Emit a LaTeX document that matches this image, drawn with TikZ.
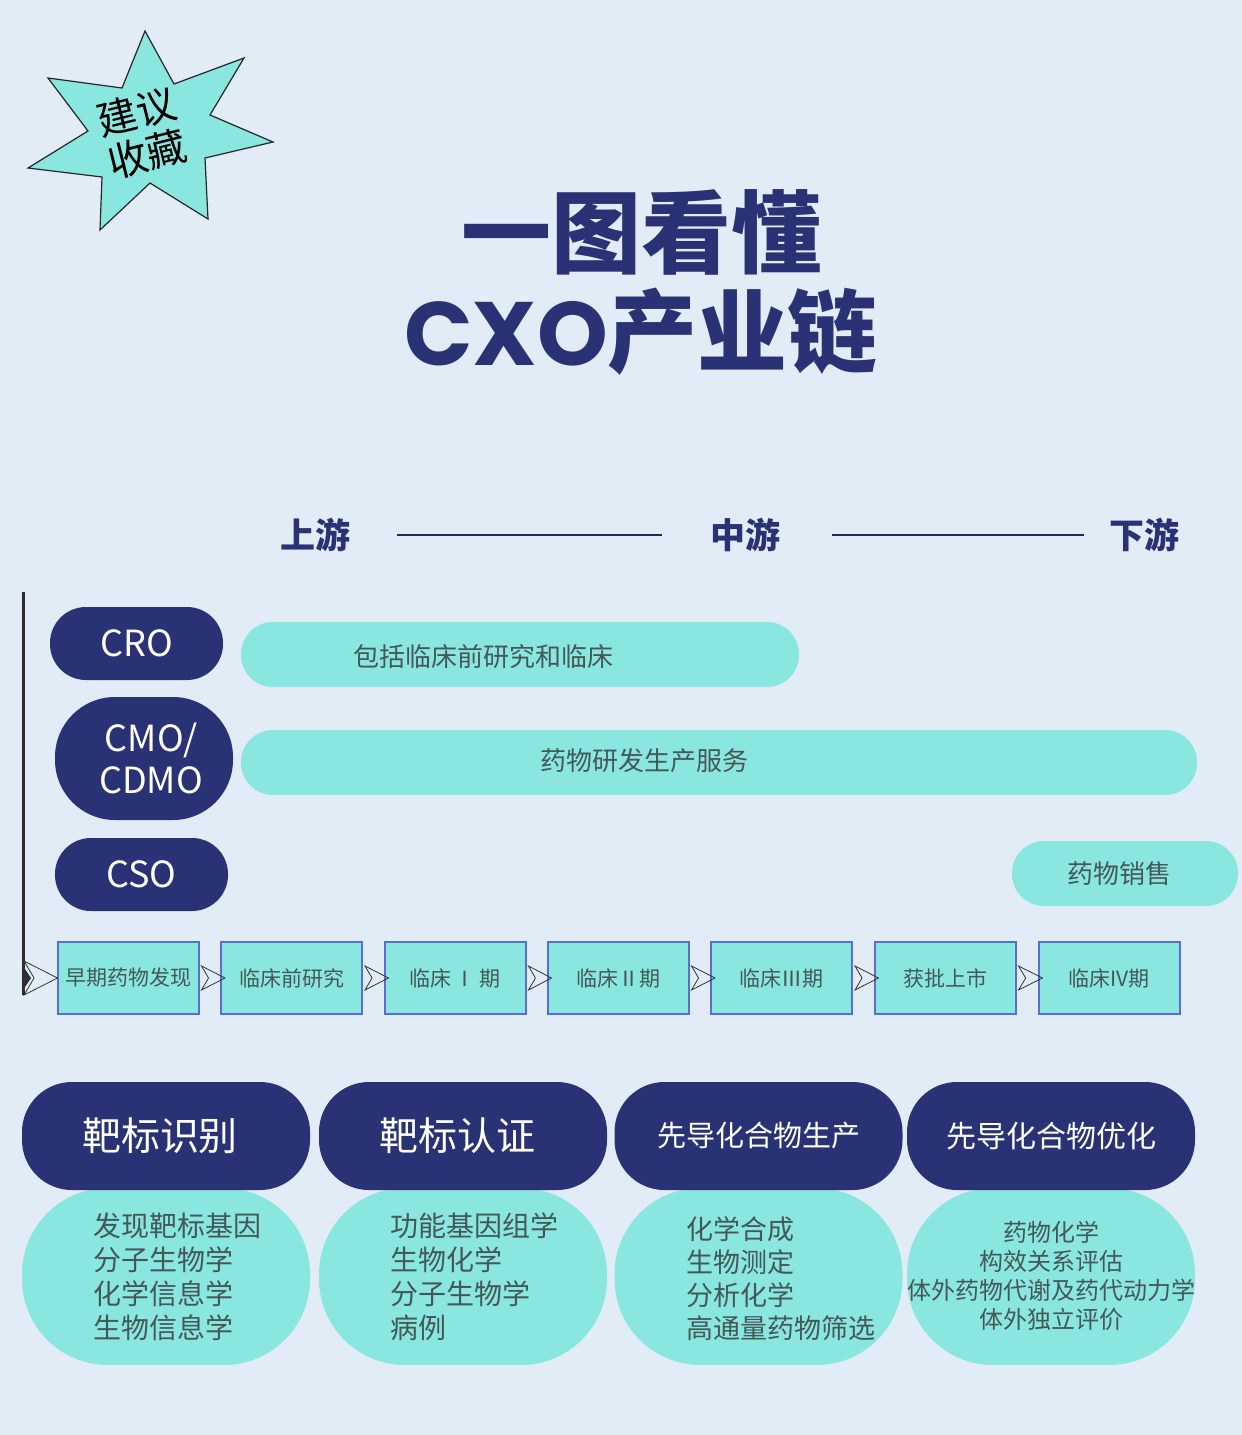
\documentclass[tikz,border=0pt]{standalone}
\usepackage{fontspec}
\setmainfont{Noto Sans CJK SC}
\newfontfamily\poppins{Poppins}
\usepackage{tikz}
\usetikzlibrary{calc}
\definecolor{bgblue}{RGB}{225,236,246}
\definecolor{navy}{RGB}{42,50,118}
\definecolor{mint}{RGB}{138,231,224}
\definecolor{stageedge}{RGB}{90,110,205}
\definecolor{inkgray}{RGB}{68,88,88}
\definecolor{axisgray}{RGB}{45,45,50}
\newcommand{\fs}[2]{\fontsize{#1}{#2}\selectfont}
\tikzset{
  badge/.style     = {fill=mint,draw=black!85,line width=0.6pt,line join=miter},
  badgetxt/.style  = {align=center,inner sep=0pt,rotate=14,font=\fs{20}{21.5}},
  titletxt/.style  = {text=navy,inner sep=0pt,font=\fs{45}{50}\bfseries},
  streamtxt/.style = {text=navy,inner sep=0pt,font=\fs{17.5}{20}\bfseries},
  streamline/.style= {draw=navy!80!black,line width=0.6pt},
  axisbar/.style   = {draw=axisgray,line width=1.5pt},
  navypill/.style  = {fill=navy,text=white,inner sep=0pt,align=center,font=\fs{18}{21}},
  mintpill/.style  = {fill=mint,inner sep=0pt,minimum height=32.5pt,rounded corners=16pt},
  pilltxt/.style   = {text=inkgray,inner sep=0pt,font=\fs{13}{15}},
  stagebox/.style  = {draw=stageedge,line width=1pt,fill=mint,minimum width=70.5pt,
                      minimum height=36pt,inner sep=0pt,text=inkgray,font=\fs{10.5}{12}},
  chev/.style      = {draw=black!80,line width=0.4pt,line join=miter},
  headpill/.style  = {fill=navy,text=white,minimum width=144pt,minimum height=54pt,
                      rounded corners=25pt,inner sep=0pt},
  mintblob/.style  = {fill=mint,minimum width=144pt,minimum height=88.5pt,
                      rounded corners=43pt,inner sep=0pt},
  blobtxt/.style   = {text=inkgray,inner sep=0pt}
}
% chevron between two stage boxes: #1 from, #2 to
\newcommand{\chevron}[2]{%
  \coordinate (#1back) at ($(#1.east)+(2,0)$);
  \coordinate (#1tip) at ($(#2.west)+(5,0)$);
  \draw[chev] ($(#1back)+(0,-12)$) -- (#1tip) -- ($(#1back)+(0,12)$)
    -- ($(#1back)!0.3!(#1tip)$) -- cycle;
}

\begin{document}
\begin{tikzpicture}[x=0.5pt,y=-0.5pt]
  \useasboundingbox (0,0) rectangle (1242,1435);
  \fill[bgblue] (0,0) rectangle (1242,1435);

  % badge
  \draw[badge] (145,31) -- (174,84) -- (244,58) -- (210,115) -- (273,142) -- (205,158)
    -- (208,219) -- (150,183) -- (100,230) -- (102,177) -- (28,168) -- (88,131)
    -- (48,78) -- (122,88) -- cycle;
  \node[badgetxt] (keep) at (142,133) {建议\\收藏};

  % title
  \node[titletxt] (title1) at (641,232) {一图看懂};
  \node[titletxt] (title2) at (641,332) {{\poppins CXO}产业链};

  % up / mid / down stream
  \node[streamtxt] (up)   at (315,535)  {上游};
  \node[streamtxt] (mid)  at (745,535)  {中游};
  \node[streamtxt] (down) at (1144,535) {下游};
  \draw[streamline,shorten <=23.5pt,shorten >=24pt] (up.east) -- (mid.west);
  \draw[streamline,shorten <=26pt,shorten >=12.5pt] (mid.east) -- (down.west);

  % service types
  \node[navypill,minimum width=86.5pt,minimum height=36.5pt,rounded corners=18pt]
    (cro) at (136.5,643.5) {CRO};
  \node[navypill,minimum width=89pt,minimum height=61.5pt,rounded corners=30pt]
    (cmo) at (144,758.5) {\hspace*{7pt}CMO/\\\hspace*{7pt}CDMO};
  \node[navypill,minimum width=86.5pt,minimum height=36.5pt,rounded corners=18pt]
    (cso) at (141.5,874.5) {CSO};

  \node[mintpill,minimum width=279pt] (crobar) at (520,654.5) {};
  \node[mintpill,minimum width=478pt] (cmobar) at (719,762.5) {};
  \node[mintpill,minimum width=113pt] (csobar) at (1125,873.5) {};
  \node[pilltxt] (crotxt) at ([xshift=-18.5pt,yshift=-1pt]crobar.center) {包括临床前研究和临床};
  \node[pilltxt] (cmotxt) at ([xshift=-37.5pt,yshift=1pt]cmobar.center) {药物研发生产服务};
  \node[pilltxt] (csotxt) at ([xshift=-3pt]csobar.center) {药物销售};

  % stages
  \coordinate (axtop) at (23,592);
  \coordinate (axbot) at (23,995);
  \draw[axisbar] (axtop) -- (axbot);
  \node[stagebox] (s1) at (128,978)    {早期药物发现};
  \node[stagebox] (s2) at (291.5,978)  {临床前研究};
  \node[stagebox] (s3) at (455,978)    {临床\,Ⅰ\,期};
  \node[stagebox] (s4) at (618,978)    {临床Ⅱ期};
  \node[stagebox] (s5) at (781.5,978)  {临床Ⅲ期};
  \node[stagebox] (s6) at (945,978)    {获批上市};
  \node[stagebox] (s7) at (1109,978)   {临床IV期};
  \coordinate (s0back) at (24,978);
  \coordinate (s0tip) at ($(s1.west)+(1,0)$);
  \fill[axisgray] (23,966) -- (31,978) -- (23,990) -- cycle;
  \draw[chev] ($(s0back)+(0,-17)$) -- (s0tip) -- ($(s0back)+(0,17)$)
    -- ($(s0back)!0.3!(s0tip)$) -- cycle;
  \chevron{s1}{s2}
  \chevron{s2}{s3}
  \chevron{s3}{s4}
  \chevron{s4}{s5}
  \chevron{s5}{s6}
  \chevron{s6}{s7}

  % discovery steps
  \node[mintblob] (k1) at (166,1276.5)    {};
  \node[mintblob] (k2) at (463,1276.5)    {};
  \node[mintblob] (k3) at (758.5,1276.5)  {};
  \node[mintblob] (k4) at (1051,1276.5)   {};
  \node[headpill,font=\fs{19.5}{22}] (h1) at (166,1136)   {\hspace*{-6pt}靶标识别};
  \node[headpill,font=\fs{19.5}{22}] (h2) at (463,1136)   {\hspace*{-6pt}靶标认证};
  \node[headpill,font=\fs{14.5}{17}] (h3) at (758.5,1136) {先导化合物生产};
  \node[headpill,font=\fs{15}{17}]   (h4) at (1051,1136)  {先导化合物优化};
  \node[blobtxt,align=left,font=\fs{14}{17}] (k1txt) at ([xshift=5.5pt]k1.center)
    {发现靶标基因\\分子生物学\\化学信息学\\生物信息学};
  \node[blobtxt,align=left,font=\fs{14}{17}] (k2txt) at ([xshift=5.5pt]k2.center)
    {功能基因组学\\生物化学\\分子生物学\\病例};
  \node[blobtxt,align=left,font=\fs{13.5}{16.5}] (k3txt) at ([xshift=11.25pt,yshift=-1pt]k3.center)
    {化学合成\\生物测定\\分析化学\\高通量药物筛选};
  \node[blobtxt,align=center,font=\fs{12}{14.5}] (k4txt) at ([yshift=0.5pt]k4.center)
    {药物化学\\构效关系评估\\体外药物代谢及药代动力学\\体外独立评价};
\end{tikzpicture}
\end{document}
